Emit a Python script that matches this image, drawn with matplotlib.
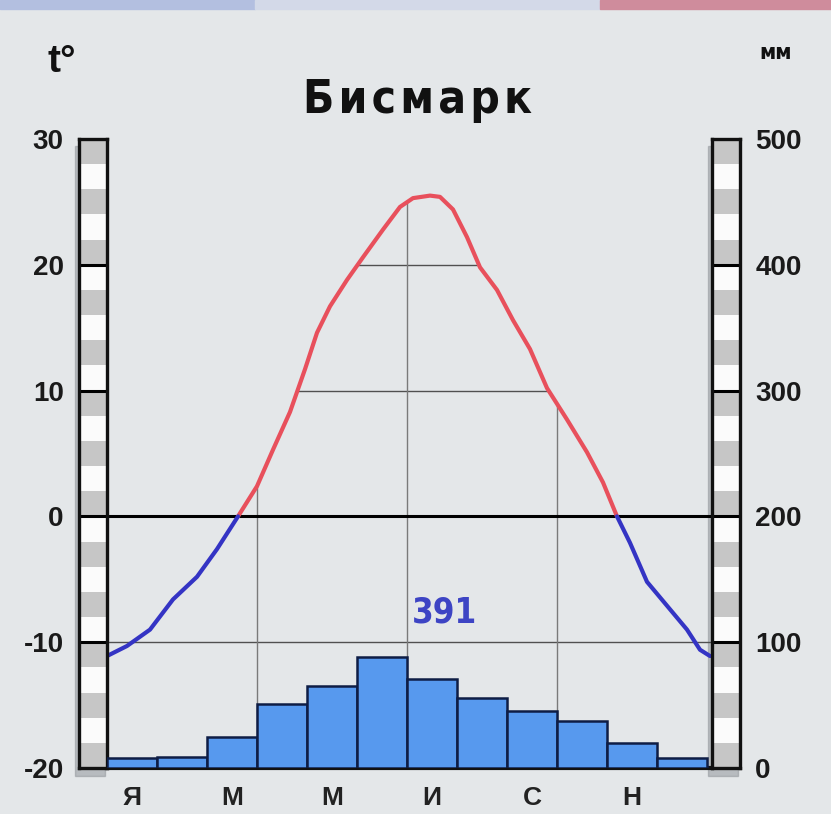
import matplotlib
matplotlib.use("Agg")
import matplotlib.pyplot as plt
import numpy as np
from matplotlib.patches import Polygon, Rectangle

# climate diagram data
month_labels = ["Я", "Ф", "М", "А", "М", "И", "И", "А", "С", "О", "Н", "Д"]
precip_mm = [8, 9, 25, 51, 65, 88, 71, 56, 45, 37, 20, 8]
annual_total = "391"

# temperature curve as drawn (position in months from January 1st, degrees C)
curve_pos = [0.0, 0.4, 0.86, 1.32, 1.8, 2.2, 2.62, 3.0, 3.32, 3.66, 3.96,
             4.2, 4.46, 4.8, 5.12, 5.52, 5.86, 6.12, 6.46, 6.66, 6.92, 7.2,
             7.46, 7.8, 8.12, 8.46, 8.8, 9.2, 9.6, 9.92, 10.2, 10.46, 10.8,
             11.2, 11.6, 11.86, 12.06]
curve_temp = [-11.1, -10.3, -9.0, -6.6, -4.8, -2.6, 0.0, 2.4, 5.3, 8.3, 11.7,
              14.6, 16.7, 18.8, 20.6, 22.8, 24.6, 25.3, 25.5, 25.4, 24.4, 22.2,
              19.8, 18.0, 15.6, 13.3, 10.2, 7.7, 5.1, 2.7, 0.0, -2.1, -5.2,
              -7.1, -9.0, -10.6, -11.1]

temp_ticks = [-20, -10, 0, 10, 20, 30]
precip_ticks = [0, 100, 200, 300, 400, 500]

W, H = 831, 814
BG = "#e4e7e9"
NUM_FONT = ["Liberation Sans", "DejaVu Sans"]


def fig_rect(x0, y0, x1, y1):
    return [x0 / W, 1 - y1 / H, (x1 - x0) / W, (y1 - y0) / H]


def scale_bar(axb, lo, hi, step, ticks):
    edges = np.arange(lo, hi, step)
    for k, e in enumerate(edges):
        axb.axhspan(e, e + step, color="#c6c6c6" if k % 2 == 0 else "#fbfbfb",
                    lw=0)
    for t in ticks[1:-1]:
        axb.axhline(t, color="black", lw=2.2)
    axb.set_ylim(lo, hi)
    axb.set_xlim(0, 1)
    axb.set_xticks([])
    for s in axb.spines.values():
        s.set_linewidth(2.4)
        s.set_color("#111111")


fig = plt.figure(figsize=(W / 100, H / 100), dpi=100)
fig.patch.set_facecolor(BG)

# coloured strip on top edge
fig.patches.append(Rectangle((0, 1 - 9 / H), 255 / W, 9 / H, transform=fig.transFigure,
                             color="#b3bfe0", zorder=-2))
fig.patches.append(Rectangle((255 / W, 1 - 9 / H), 345 / W, 9 / H, transform=fig.transFigure,
                             color="#d3d9e8", zorder=-2))
fig.patches.append(Rectangle((600 / W, 1 - 9 / H), 231 / W, 9 / H, transform=fig.transFigure,
                             color="#cf8c9c", zorder=-2))

# shadows under the scale bars
for x0 in (75, 708):
    fig.patches.append(Rectangle((x0 / W, 1 - 776 / H), 30 / W, 630 / H,
                                 transform=fig.transFigure, color="#8c9096",
                                 alpha=0.5, zorder=-1))

ax = fig.add_axes(fig_rect(107, 139, 712, 768))
ax_l = fig.add_axes(fig_rect(79, 139, 107, 768))
ax_r = fig.add_axes(fig_rect(712, 139, 740, 768))

ax.set_facecolor("none")
ax.set_xlim(0, 12.1)
ax.set_ylim(-20, 30)

t = np.array(curve_temp)
pos = np.array(curve_pos)

# grid only under the temperature curve
clip_poly = Polygon(np.column_stack([np.r_[pos, pos[-1] + 0.1, pos[0]],
                                     np.r_[np.maximum(t, 0), -20, -20]]),
                    closed=True, transform=ax.transData, fc="none", ec="none")
ax.add_patch(clip_poly)
for v in temp_ticks[1:-1]:
    if v == 0:
        continue
    ln = ax.axhline(v, color="#505050", lw=1.0, zorder=1)
    ln.set_clip_path(clip_poly)
for m in (3, 6, 9):
    ln = ax.axvline(m, color="#7a7a7a", lw=1.0, zorder=1)
    ln.set_clip_path(clip_poly)

ax.axhline(0, color="black", lw=2.2, zorder=3)

ax.plot(pos, np.where(t >= 0, t, np.nan), color="#e8505c", lw=3.0,
        zorder=4, solid_capstyle="round", solid_joinstyle="round")
ax.plot(pos, np.where(t <= 0, t, np.nan), color="#3434c4", lw=3.0,
        zorder=4, solid_capstyle="round", solid_joinstyle="round")

ax.text(6.76, -7.6, annual_total, ha="center", va="center", fontsize=25,
        color="#3d44c4", family="DejaVu Sans", fontstretch="condensed",
        fontweight="bold")

for side in ("top", "left", "right"):
    ax.spines[side].set_visible(False)
ax.spines["bottom"].set_linewidth(3)
ax.spines["bottom"].set_color("#111111")
ax.set_yticks([])
centers = np.arange(12) + 0.5
ax.set_xticks(centers[::2])
ax.set_xticklabels(month_labels[::2], fontsize=19, fontweight="bold",
                   family=NUM_FONT, color="#222222")
ax.tick_params(axis="x", length=0, pad=13)

# precipitation bars
ax2 = ax.twinx()
ax2.set_ylim(0, 500)
ax2.bar(centers, precip_mm, width=1.0, color="#5799ee", edgecolor="#0e1d45",
        lw=1.8, zorder=2)
ax2.set_yticks([])
for s in ax2.spines.values():
    s.set_visible(False)

# scale bars with tick labels
scale_bar(ax_l, -20, 30, 2, temp_ticks)
ax_l.set_yticks(temp_ticks)
ax_l.set_yticklabels([str(v) for v in temp_ticks], fontsize=20,
                     fontweight="bold", family=NUM_FONT, color="#1a1a1a")
ax_l.tick_params(axis="y", length=0, pad=11)

scale_bar(ax_r, 0, 500, 20, precip_ticks)
ax_r.yaxis.tick_right()
ax_r.set_yticks(precip_ticks)
ax_r.set_yticklabels([str(v) for v in precip_ticks], fontsize=20,
                     fontweight="bold", family=NUM_FONT, color="#1a1a1a")
ax_r.tick_params(axis="y", length=0, pad=11)

fig.text(418 / W, 1 - 113 / H, "\u200a".join("Бисмарк"), ha="center",
         va="baseline", fontsize=33, fontweight="bold", family="DejaVu Sans",
         fontstretch="condensed", color="#111111")
fig.text(62 / W, 1 - 72 / H, "t°", ha="center", va="baseline",
         fontsize=28, fontweight="bold", family=NUM_FONT, color="#111111")
fig.text(776 / W, 1 - 59 / H, "мм", ha="center", va="baseline",
         fontsize=16, fontweight="bold", family="DejaVu Sans",
         fontstretch="condensed", color="#111111")

fig.savefig("out.png", dpi=100, facecolor=BG)
